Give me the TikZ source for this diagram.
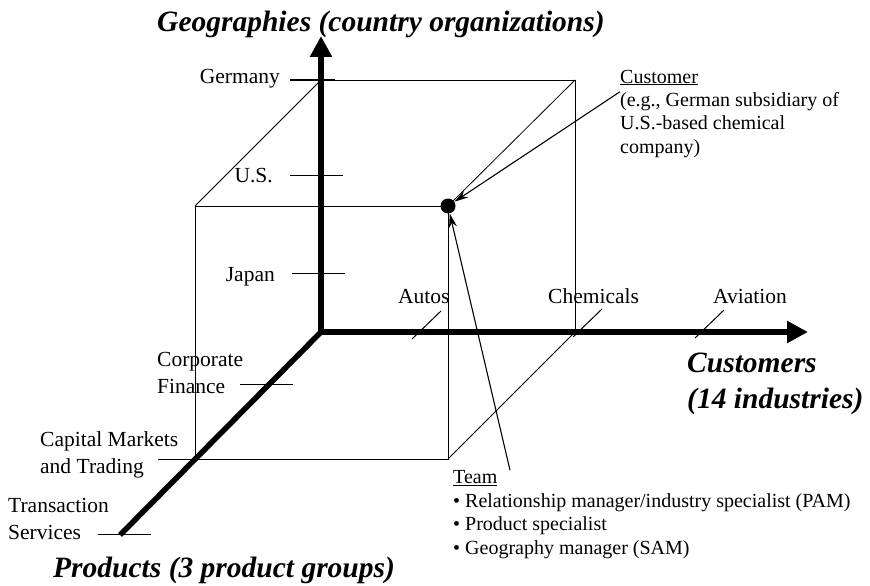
\documentclass[tikz,border=0pt]{standalone}
\usepackage{fontspec}
\setmainfont{Liberation Serif}
\usetikzlibrary{arrows.meta}
\usetikzlibrary{positioning}
\tikzstyle{axis} = [
    draw,
    line width=5.5pt,
    line cap=rect,
    -{Triangle[length=21pt,width=21pt]}
]
\tikzstyle{edge}    = [draw, line width=0.8pt]
\tikzstyle{tick}    = [draw, line width=1pt]
\tikzstyle{lbl}     = [inner sep=0pt, align=left, font=\fontsize{21.5}{27}\selectfont]
\tikzstyle{note}    = [inner sep=0pt, align=left, font=\fontsize{20}{23.5}\selectfont]
\tikzstyle{dimname} = [inner sep=0pt, align=left, font=\fontsize{29.5}{36}\selectfont\bfseries\itshape]
\tikzstyle{pointer} = [
    draw,
    line width=1.1pt,
    -{Stealth[length=14pt,width=8pt]}
]

\begin{document}
\begin{tikzpicture}[x=1pt, y=-1pt]
\useasboundingbox (0,0) rectangle (870,586);

% corners of the cube
\coordinate (O)  at (321,332);
\coordinate (ftl) at (195,206);
\coordinate (fbl) at (195,459);
\coordinate (fbr) at (448,459);
\coordinate (btl) at (321,80);
\coordinate (btr) at (575,80);
\coordinate (bbr) at (575,332);
\coordinate (geotop)  at (321,36);
\coordinate (custend) at (808,332);
\coordinate (prodend) at (122,533);

\node[circle, fill=black, inner sep=0pt, minimum size=15pt] (cust) at (448,206) {};

\draw[edge] (btl) -- (btr) -- (bbr);
\draw[edge] (btr) -- (cust.center);
\draw[edge] (ftl) -- (btl);
\draw[edge] (ftl) -- (cust.center) -- (fbr) -- (fbl) -- cycle;
\draw[edge] (fbr) -- (bbr);

% the three dimensions
\draw[axis] (O) -- (geotop);
\draw[axis] (O) -- (custend);
\draw[draw, line width=5.5pt, line cap=rect] (O) -- (prodend);

% tick marks
\foreach \a/\b/\l in {290/80/45, 290/175/53, 292/273/53}
    \draw[tick] (\a,\b) -- ++(\l,0);
\foreach \a/\b in {240/384, 158/459, 98/534}
    \draw[tick] (\a,\b) -- ++(53,0);
\foreach \a/\b in {412/339, 573/337, 695/338}
    \draw[tick] (\a,\b) -- ++(29,-28);

\node[lbl, anchor=base east] (germany) at (280,83)  {Germany};
\node[lbl, anchor=base east] (us)      at (273,182) {U.S.};
\node[lbl, anchor=base east] (japan)   at (275,281) {Japan};

\node[lbl, anchor=base west] (corpfin)  at (157,393) {Corporate\\Finance};
\node[lbl, anchor=base west] (capmkt)   at (40,473)  {Capital Markets\\and Trading};
\node[lbl, anchor=base west] (transsvc) at (8,539)   {Transaction\\Services};

\node[lbl, anchor=base west] (autos)     at (398,303) {Autos};
\node[lbl, anchor=base west] (chemicals) at (548,303) {Chemicals};
\node[lbl, anchor=base west] (aviation)  at (713,303) {Aviation};

\node[dimname, anchor=base west] (geoname)  at (157,32)  {Geographies (country organizations)};
\node[dimname, anchor=base west] (prodname) at (53,577)  {Products (3 product groups)};
\node[dimname, anchor=base west] (custname) at (687,408) {Customers\\(14 industries)};

\node[note, anchor=base west] (custhead) at (620,83)  {\underline{Customer}};
\node[note, anchor=base west] (custtext) at (620,153)
    {(e.g., German subsidiary of\\U.S.-based chemical\\company)};

\node[note, anchor=base west] (team) at (453,554)
    {\underline{Team}\\
     \textbullet\ Relationship manager/industry specialist (PAM)\\
     \textbullet\ Product specialist\\
     \textbullet\ Geography manager (SAM)};

\draw[pointer] (custtext.north west) -- (cust);
\draw[pointer] ([xshift=57pt]team.north west) -- (cust);
\end{tikzpicture}
\end{document}
